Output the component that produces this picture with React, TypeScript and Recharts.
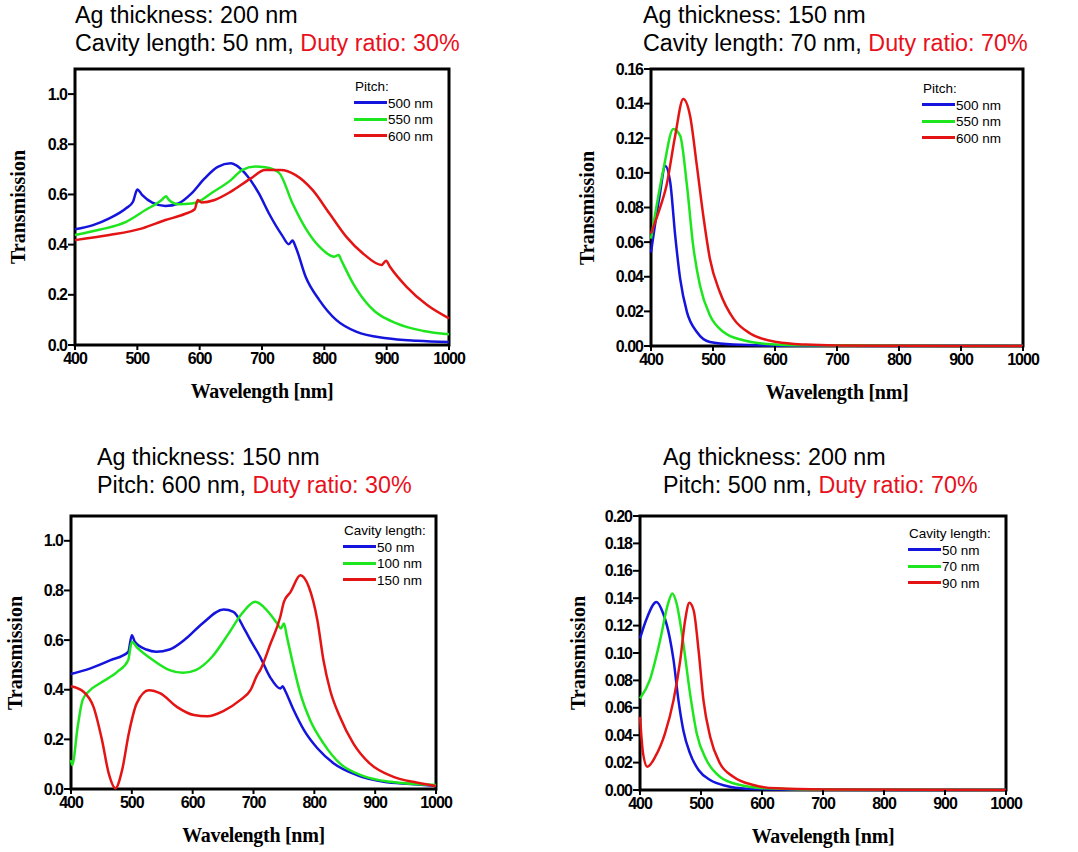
import React from "react";
import { LineChart, Line, XAxis, YAxis, ReferenceArea } from "recharts";

const BLUE = "#1414dc";
const GREEN = "#1ee61e";
const RED = "#e41414";
const TITLE_RED = "#e8101c";

const WL_TICKS = [400, 500, 600, 700, 800, 900, 1000];
const T_TICKS_10 = [0, 0.2, 0.4, 0.6, 0.8, 1.0];
const T_TICKS_016 = [0, 0.02, 0.04, 0.06, 0.08, 0.1, 0.12, 0.14, 0.16];
const T_TICKS_020 = [0, 0.02, 0.04, 0.06, 0.08, 0.1, 0.12, 0.14, 0.16, 0.18, 0.2];

// top left: Ag 200 nm, cavity 50 nm, duty 30%, pitch varies
const TL_WL_500 = [400, 429, 455, 482, 493, 500, 508, 524, 545, 566, 587, 608, 629, 650, 658, 673, 695, 711, 732, 743, 749, 754, 770, 792, 819, 851, 900, 949, 1000];
const TL_T_500 = [0.461, 0.478, 0.505, 0.545, 0.571, 0.62, 0.597, 0.567, 0.554, 0.564, 0.604, 0.664, 0.71, 0.724, 0.717, 0.684, 0.604, 0.525, 0.438, 0.402, 0.416, 0.391, 0.272, 0.179, 0.1, 0.053, 0.027, 0.017, 0.012];
const TL_WL_550 = [400, 439, 482, 513, 539, 546, 550, 566, 587, 597, 618, 650, 668, 689, 705, 727, 749, 770, 792, 816, 823, 827, 846, 873, 916, 959, 1000];
const TL_T_550 = [0.438, 0.459, 0.491, 0.538, 0.578, 0.593, 0.58, 0.561, 0.564, 0.57, 0.604, 0.657, 0.697, 0.711, 0.708, 0.687, 0.564, 0.465, 0.392, 0.352, 0.359, 0.339, 0.246, 0.153, 0.086, 0.056, 0.043];
const TL_WL_600 = [400, 455, 508, 545, 576, 592, 597, 603, 624, 650, 682, 705, 730, 754, 781, 808, 835, 862, 892, 899, 905, 932, 965, 1000];
const TL_T_600 = [0.418, 0.438, 0.465, 0.498, 0.522, 0.541, 0.578, 0.568, 0.578, 0.611, 0.664, 0.697, 0.697, 0.677, 0.618, 0.525, 0.432, 0.365, 0.319, 0.336, 0.313, 0.232, 0.159, 0.106];

// top right: Ag 150 nm, cavity 70 nm, duty 70%
const TR_WL_500 = [400, 414, 423, 431, 439, 447, 458, 474, 495, 533, 600, 700, 1000];
const TR_T_500 = [0.054, 0.087, 0.104, 0.0946, 0.0639, 0.0389, 0.0196, 0.0081, 0.0023, 0.0008, 0.0002, 0.0001, 0];
const TR_WL_550 = [400, 420, 436, 447, 458, 468, 479, 495, 517, 549, 587, 650, 800, 1000];
const TR_T_550 = [0.062, 0.102, 0.1254, 0.1215, 0.0927, 0.058, 0.035, 0.0177, 0.0081, 0.0033, 0.0012, 0.0004, 0.0001, 0];
const TR_WL_600 = [400, 414, 425, 439, 452, 463, 474, 485, 495, 511, 533, 560, 603, 650, 700, 800, 1000];
const TR_T_600 = [0.065, 0.0792, 0.0927, 0.1215, 0.1427, 0.133, 0.104, 0.0735, 0.0504, 0.0312, 0.0158, 0.0072, 0.0023, 0.0008, 0.0003, 0.0001, 0];

// bottom left: Ag 150 nm, pitch 600 nm, duty 30%, cavity varies
const BL_WL_50 = [400, 432, 465, 494, 500, 505, 524, 540, 562, 589, 616, 651, 667, 686, 695, 711, 727, 744, 748, 752, 766, 783, 805, 832, 870, 914, 958, 1000];
const BL_T_50 = [0.463, 0.486, 0.519, 0.552, 0.62, 0.593, 0.562, 0.553, 0.562, 0.606, 0.667, 0.723, 0.714, 0.64, 0.6, 0.532, 0.452, 0.405, 0.414, 0.396, 0.318, 0.237, 0.164, 0.103, 0.056, 0.029, 0.02, 0.012];
const BL_WL_100 = [400, 402, 411, 419, 430, 449, 476, 494, 500, 508, 535, 562, 584, 605, 632, 659, 681, 703, 722, 739, 745, 750, 755, 766, 777, 793, 815, 842, 881, 925, 1000];
const BL_T_100 = [0.117, 0.097, 0.251, 0.358, 0.395, 0.428, 0.472, 0.519, 0.593, 0.572, 0.519, 0.479, 0.468, 0.479, 0.533, 0.626, 0.707, 0.754, 0.72, 0.667, 0.647, 0.667, 0.613, 0.492, 0.385, 0.278, 0.184, 0.103, 0.052, 0.029, 0.016];
const BL_WL_150 = [400, 421, 437, 451, 462, 473, 484, 495, 508, 528, 547, 574, 602, 624, 651, 678, 695, 706, 711, 728, 744, 750, 761, 777, 791, 805, 815, 826, 842, 864, 891, 929, 968, 1000];
const BL_T_150 = [0.414, 0.391, 0.331, 0.197, 0.063, 0.003, 0.076, 0.224, 0.345, 0.398, 0.385, 0.331, 0.298, 0.293, 0.315, 0.358, 0.398, 0.459, 0.479, 0.586, 0.693, 0.754, 0.794, 0.861, 0.814, 0.68, 0.519, 0.398, 0.291, 0.184, 0.103, 0.05, 0.026, 0.012];

// bottom right: Ag 200 nm, pitch 500 nm, duty 70%
const BR_WL_50 = [400, 411, 427, 438, 449, 455, 463, 471, 482, 496, 515, 542, 575, 650, 1000];
const BR_T_50 = [0.1106, 0.1252, 0.1373, 0.1288, 0.1106, 0.0948, 0.0656, 0.0437, 0.0267, 0.0146, 0.0073, 0.0029, 0.001, 0.0002, 0];
const BR_WL_70 = [400, 416, 433, 446, 453, 460, 471, 482, 493, 509, 531, 564, 608, 700, 1000];
const BR_T_70 = [0.0668, 0.0802, 0.1094, 0.1361, 0.1434, 0.1361, 0.107, 0.0705, 0.0413, 0.0219, 0.0097, 0.0036, 0.0012, 0.0002, 0];
const BR_WL_90 = [400, 405, 412, 425, 441, 455, 466, 474, 481, 488, 496, 504, 515, 531, 553, 586, 624, 700, 1000];
const BR_T_90 = [0.0534, 0.0267, 0.017, 0.0243, 0.0413, 0.0656, 0.0948, 0.124, 0.1366, 0.131, 0.102, 0.0656, 0.0389, 0.0195, 0.0097, 0.0036, 0.0012, 0.0003, 0];

const zip = (wl: number[], t: number[]) => wl.map((x, i) => ({ x, y: t[i] }));

type Series = { name: string; color: string; wl: number[]; t: number[] };
type Box = { x: number; y: number; w: number; h: number };
type PanelProps = {
  box: Box;
  yMax: number;
  yTicks: number[];
  digits: number;
  series: Series[];
  legendTitle: string;
  legend: { x: number; y: number };
  title: { x: number; y: number };
  line1: string;
  line2: string;
  duty: string;
  yTitleX: number;
};

const YW = 62;
const XH = 60;
const PAD = 14;
const RP = 30;

const tickStyle = {
  fill: "#000",
  fontSize: 16,
  fontWeight: 700,
  fontFamily: "'Liberation Sans', Arial, sans-serif",
  letterSpacing: -1,
};

function Panel(p: PanelProps) {
  const { box } = p;
  return (
    <>
      <div
        style={{
          position: "absolute",
          left: p.title.x,
          top: p.title.y,
          fontSize: 23.3,
          lineHeight: "28px",
          whiteSpace: "nowrap",
          color: "#000",
        }}
      >
        <div>{p.line1}</div>
        <div>
          {p.line2}
          <span style={{ color: TITLE_RED }}>{p.duty}</span>
        </div>
      </div>

      <div style={{ position: "absolute", left: box.x - YW, top: box.y - PAD }}>
        <LineChart
          width={YW + box.w + RP}
          height={PAD + box.h + XH}
          margin={{ top: PAD, right: RP, bottom: 0, left: 0 }}
        >
          <XAxis
            type="number"
            dataKey="x"
            domain={[400, 1000]}
            ticks={WL_TICKS}
            interval={0}
            height={XH}
            axisLine={false}
            tickSize={5}
            tickMargin={3}
            tickLine={{ stroke: "#000", strokeWidth: 2 }}
            tick={tickStyle}
          />
          <YAxis
            type="number"
            domain={[0, p.yMax]}
            ticks={p.yTicks}
            interval={0}
            width={YW}
            axisLine={false}
            tickSize={7}
            tickMargin={1}
            tickLine={{ stroke: "#000", strokeWidth: 2 }}
            tick={tickStyle}
            tickFormatter={(v: number) => v.toFixed(p.digits)}
          />
          {p.series.map((s) => (
            <Line
              key={s.name}
              data={zip(s.wl, s.t)}
              dataKey="y"
              type="monotone"
              stroke={s.color}
              strokeWidth={2.5}
              dot={false}
              activeDot={false}
              isAnimationActive={false}
            />
          ))}
          <ReferenceArea
            x1={400}
            x2={1000}
            y1={0}
            y2={p.yMax}
            fill="none"
            stroke="#000"
            strokeWidth={3}
          />
        </LineChart>
      </div>

      <div
        style={{
          position: "absolute",
          left: p.legend.x,
          top: p.legend.y,
          fontSize: 13.5,
          lineHeight: "16.5px",
          whiteSpace: "nowrap",
        }}
      >
        <div style={{ paddingLeft: 1 }}>{p.legendTitle}</div>
        {p.series.map((s) => (
          <div key={s.name} style={{ display: "flex", alignItems: "center" }}>
            <span
              style={{
                display: "inline-block",
                width: 33,
                height: 3,
                marginTop: -2,
                background: s.color,
              }}
            />
            <span style={{ marginLeft: 1 }}>{s.name}</span>
          </div>
        ))}
      </div>

      <div
        style={{
          position: "absolute",
          left: box.x + box.w / 2,
          top: box.y + box.h + 36,
          transform: "translateX(-50%)",
          fontFamily: "'Liberation Serif', 'Times New Roman', serif",
          fontWeight: 700,
          fontSize: 20,
          lineHeight: "20px",
          letterSpacing: -0.3,
          whiteSpace: "nowrap",
        }}
      >
        Wavelength [nm]
      </div>
      <div
        style={{
          position: "absolute",
          left: p.yTitleX,
          top: box.y + box.h / 2,
          transform: "translate(-50%, -50%) rotate(-90deg)",
          fontFamily: "'Liberation Serif', 'Times New Roman', serif",
          fontWeight: 700,
          fontSize: 20,
          lineHeight: "20px",
          whiteSpace: "nowrap",
        }}
      >
        Transmission
      </div>
    </>
  );
}

export default function App() {
  return (
    <div
      style={{
        position: "absolute",
        left: 0,
        top: 0,
        width: 1078,
        height: 852,
        background: "#fff",
        fontFamily: "'Liberation Sans', Arial, sans-serif",
        overflow: "hidden",
      }}
    >
      <Panel
        box={{ x: 75, y: 69, w: 374, h: 276 }}
        yMax={1.1}
        yTicks={T_TICKS_10}
        digits={1}
        series={[
          { name: "500 nm", color: BLUE, wl: TL_WL_500, t: TL_T_500 },
          { name: "550 nm", color: GREEN, wl: TL_WL_550, t: TL_T_550 },
          { name: "600 nm", color: RED, wl: TL_WL_600, t: TL_T_600 },
        ]}
        legendTitle="Pitch:"
        legend={{ x: 354, y: 79 }}
        title={{ x: 75, y: 1 }}
        line1="Ag thickness: 200 nm"
        line2="Cavity length: 50 nm, "
        duty="Duty ratio: 30%"
        yTitleX={18}
      />
      <Panel
        box={{ x: 651, y: 69, w: 372, h: 277 }}
        yMax={0.16}
        yTicks={T_TICKS_016}
        digits={2}
        series={[
          { name: "500 nm", color: BLUE, wl: TR_WL_500, t: TR_T_500 },
          { name: "550 nm", color: GREEN, wl: TR_WL_550, t: TR_T_550 },
          { name: "600 nm", color: RED, wl: TR_WL_600, t: TR_T_600 },
        ]}
        legendTitle="Pitch:"
        legend={{ x: 922, y: 81 }}
        title={{ x: 643, y: 1 }}
        line1="Ag thickness: 150 nm"
        line2="Cavity length: 70 nm, "
        duty="Duty ratio: 70%"
        yTitleX={587}
      />
      <Panel
        box={{ x: 71, y: 516, w: 365, h: 273 }}
        yMax={1.1}
        yTicks={T_TICKS_10}
        digits={1}
        series={[
          { name: "50 nm", color: BLUE, wl: BL_WL_50, t: BL_T_50 },
          { name: "100 nm", color: GREEN, wl: BL_WL_100, t: BL_T_100 },
          { name: "150 nm", color: RED, wl: BL_WL_150, t: BL_T_150 },
        ]}
        legendTitle="Cavity length:"
        legend={{ x: 343, y: 523 }}
        title={{ x: 97, y: 443 }}
        line1="Ag thickness: 150 nm"
        line2="Pitch: 600 nm, "
        duty="Duty ratio: 30%"
        yTitleX={15}
      />
      <Panel
        box={{ x: 640, y: 516, w: 366, h: 274 }}
        yMax={0.2}
        yTicks={T_TICKS_020}
        digits={2}
        series={[
          { name: "50 nm", color: BLUE, wl: BR_WL_50, t: BR_T_50 },
          { name: "70 nm", color: GREEN, wl: BR_WL_70, t: BR_T_70 },
          { name: "90 nm", color: RED, wl: BR_WL_90, t: BR_T_90 },
        ]}
        legendTitle="Cavity length:"
        legend={{ x: 908, y: 526 }}
        title={{ x: 663, y: 443 }}
        line1="Ag thickness: 200 nm"
        line2="Pitch: 500 nm, "
        duty="Duty ratio: 70%"
        yTitleX={578}
      />
    </div>
  );
}
